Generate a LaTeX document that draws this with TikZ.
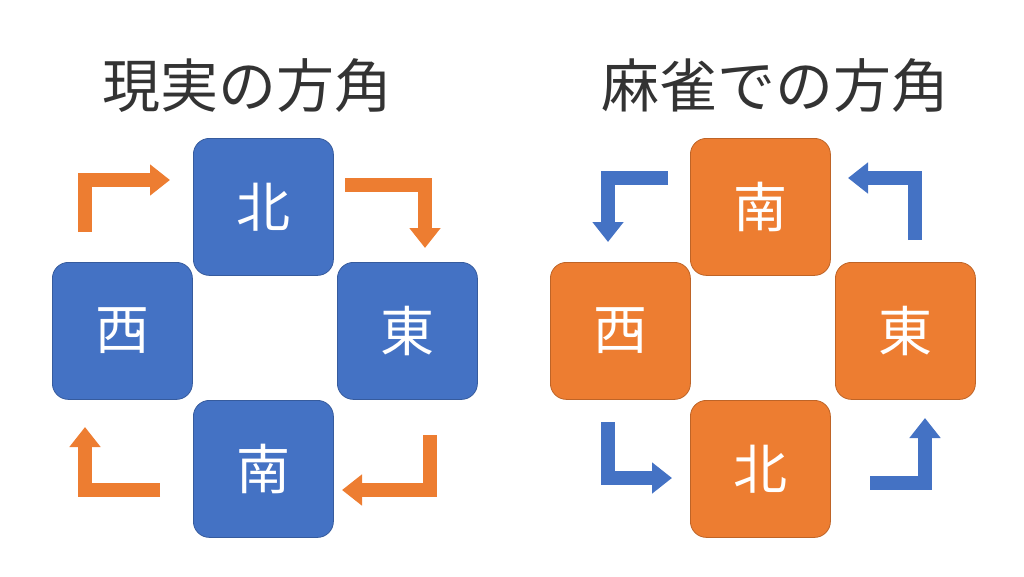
\documentclass[tikz,border=0pt]{standalone}
\usepackage{fontspec}
\newfontfamily\cjk{Noto Sans CJK JP}
\usetikzlibrary{arrows.meta}
\definecolor{bl}{HTML}{4472C4}
\definecolor{og}{HTML}{ED7D31}
\tikzset{
 tile/.style={rounded corners=16pt, minimum width=140pt, minimum height=137pt, inner sep=0pt, font=\cjk\fontsize{54}{54}\selectfont, text=white, anchor=north west},
 bt/.style={tile, fill=bl, draw=bl!80!black, line width=0.8pt},
 ot/.style={tile, fill=og, draw=og!80!black, line width=0.8pt},
 barr/.style={line width=14pt, line join=miter, -{Triangle[width=30pt,length=20pt]}},
 title/.style={font=\cjk\fontsize{58}{58}\selectfont, text=black!80}
}
\begin{document}
\begin{tikzpicture}[x=1pt,y=-1pt]
\useasboundingbox (0,0) rectangle (1024,576);
\node[title] (t1) at (247,86) {現実の方角};
\node[title] (t2) at (775,86) {麻雀での方角};
\node[bt] (ln) at (193,138) {北};
\node[bt] (lw) at (52,262) {西};
\node[bt] (le) at (337,262) {東};
\node[bt] (ls) at (193,400) {南};
\node[ot] (rs) at (690,138) {南};
\node[ot] (rw) at (550,262) {西};
\node[ot] (re) at (835,262) {東};
\node[ot] (rn) at (690,400) {北};
\draw[barr, og] (85,232) -- (85,180) -- (170,180);
\draw[barr, og] (345,185) -- (425,185) -- (425,248);
\draw[barr, og] (430,435) -- (430,490) -- (342,490);
\draw[barr, og] (160,490) -- (85,490) -- (85,427);
\draw[barr, bl] (668,178) -- (608,178) -- (608,242);
\draw[barr, bl] (915,240) -- (915,178) -- (848,178);
\draw[barr, bl] (608,422) -- (608,478) -- (672,478);
\draw[barr, bl] (870,483) -- (925,483) -- (925,418);
\end{tikzpicture}
\end{document}
